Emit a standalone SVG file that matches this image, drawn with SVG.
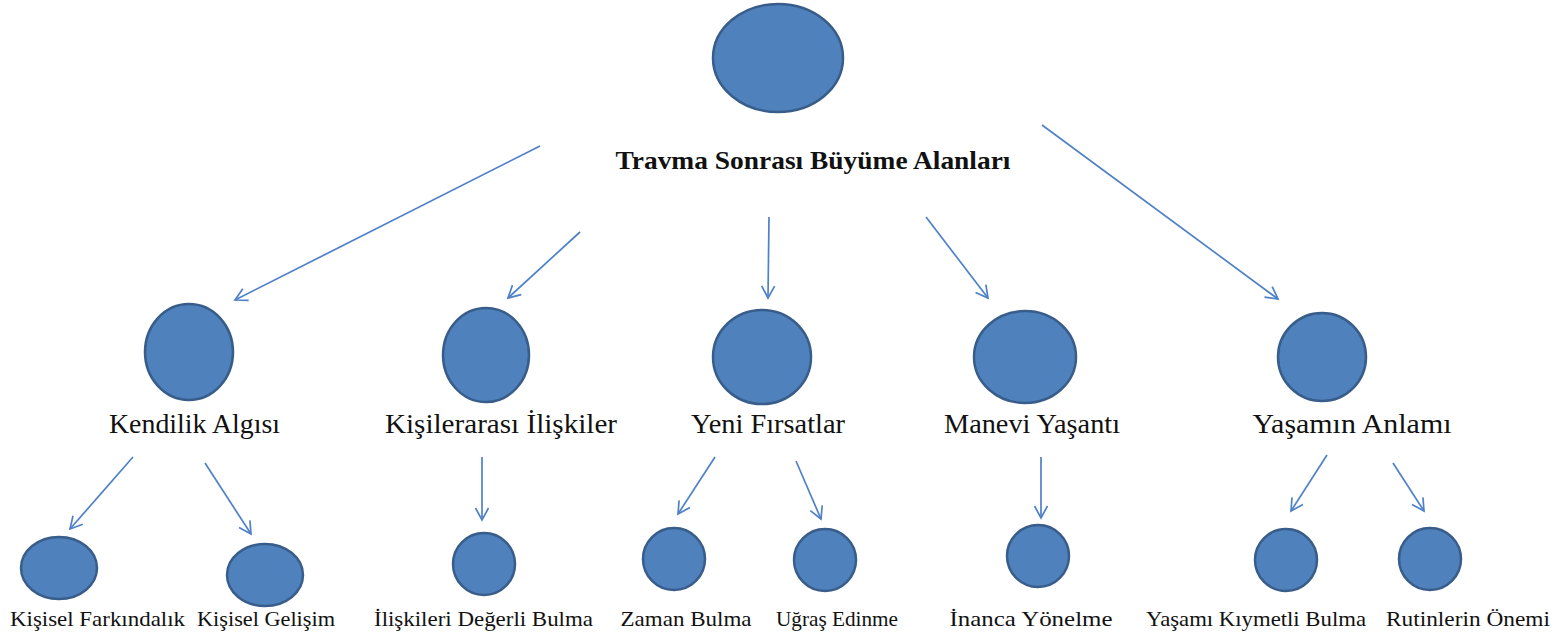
<svg xmlns="http://www.w3.org/2000/svg" width="1560" height="639" viewBox="0 0 1560 639">
  <style>
    .node { fill: #4F81BD; stroke: #385D8A; stroke-width: 2.5; }
    .link { stroke: #4F81C8; stroke-width: 1.7; fill: none; marker-end: url(#arr); }
    .title { font-family: "Liberation Serif", "Times New Roman", serif; font-weight: bold; font-size: 26px; fill: #111; }
    .l2 { font-family: "Liberation Serif", "Times New Roman", serif; font-size: 27px; fill: #111; }
    .l3 { font-family: "Liberation Serif", "Times New Roman", serif; font-size: 22px; fill: #111; }
  </style>
  <defs>
    <marker id="arr" viewBox="0 0 16 16" refX="14" refY="8" markerWidth="16" markerHeight="16" markerUnits="userSpaceOnUse" orient="auto">
      <path d="M2,1.5 L14,8 L2,14.5" fill="none" stroke="#4F81C8" stroke-width="1.7"/>
    </marker>
  </defs>
  <rect width="1560" height="639" fill="#ffffff"/>

  <!-- connectors -->
  <g id="connectors">
    <line class="link" x1="540" y1="146" x2="235" y2="300"/>
    <line class="link" x1="580" y1="232" x2="508" y2="298"/>
    <line class="link" x1="769" y1="217" x2="768" y2="298"/>
    <line class="link" x1="926" y1="217" x2="988" y2="298"/>
    <line class="link" x1="1042" y1="125" x2="1278" y2="299"/>
    <line class="link" x1="133" y1="457" x2="70" y2="529"/>
    <line class="link" x1="205" y1="463" x2="251" y2="534"/>
    <line class="link" x1="482" y1="457" x2="482" y2="520"/>
    <line class="link" x1="715" y1="457" x2="678" y2="514"/>
    <line class="link" x1="796" y1="461" x2="821" y2="519"/>
    <line class="link" x1="1041" y1="457" x2="1041" y2="518"/>
    <line class="link" x1="1327" y1="455" x2="1291" y2="511"/>
    <line class="link" x1="1393" y1="463" x2="1424" y2="511"/>
  </g>

  <!-- root -->
  <g id="root">
    <ellipse class="node" cx="778" cy="58" rx="65" ry="54"/>
    <text class="title" x="813" y="169" text-anchor="middle" textLength="395" lengthAdjust="spacingAndGlyphs">Travma Sonrası Büyüme Alanları</text>
  </g>

  <!-- main domains -->
  <g id="kendilik">
    <ellipse class="node" cx="189" cy="352" rx="44" ry="48"/>
    <text class="l2" x="194.5" y="433" text-anchor="middle" textLength="171" lengthAdjust="spacingAndGlyphs">Kendilik Algısı</text>
  </g>
  <g id="kisilerarasi">
    <ellipse class="node" cx="486" cy="355" rx="43" ry="47"/>
    <text class="l2" x="501" y="433" text-anchor="middle" textLength="232" lengthAdjust="spacingAndGlyphs">Kişilerarası İlişkiler</text>
  </g>
  <g id="yeni-firsatlar">
    <ellipse class="node" cx="762" cy="357" rx="49" ry="47"/>
    <text class="l2" x="768" y="433" text-anchor="middle" textLength="154" lengthAdjust="spacingAndGlyphs">Yeni Fırsatlar</text>
  </g>
  <g id="manevi">
    <ellipse class="node" cx="1025" cy="357" rx="51" ry="46"/>
    <text class="l2" x="1032" y="433" text-anchor="middle" textLength="176" lengthAdjust="spacingAndGlyphs">Manevi Yaşantı</text>
  </g>
  <g id="yasamin-anlami">
    <ellipse class="node" cx="1322" cy="357" rx="44" ry="44"/>
    <text class="l2" x="1352" y="433" text-anchor="middle" textLength="199" lengthAdjust="spacingAndGlyphs">Yaşamın Anlamı</text>
  </g>

  <!-- sub-themes -->
  <g id="kisisel-farkindalik">
    <ellipse class="node" cx="59" cy="568" rx="38" ry="31"/>
    <text class="l3" x="97.5" y="626" text-anchor="middle" textLength="175" lengthAdjust="spacingAndGlyphs">Kişisel Farkındalık</text>
  </g>
  <g id="kisisel-gelisim">
    <ellipse class="node" cx="265" cy="575" rx="38" ry="31"/>
    <text class="l3" x="266" y="626" text-anchor="middle" textLength="138" lengthAdjust="spacingAndGlyphs">Kişisel Gelişim</text>
  </g>
  <g id="iliskileri-degerli-bulma">
    <ellipse class="node" cx="484" cy="564" rx="31" ry="31"/>
    <text class="l3" x="483.5" y="626" text-anchor="middle" textLength="219" lengthAdjust="spacingAndGlyphs">İlişkileri Değerli Bulma</text>
  </g>
  <g id="zaman-bulma">
    <ellipse class="node" cx="674" cy="559" rx="31" ry="31"/>
    <text class="l3" x="686" y="626" text-anchor="middle" textLength="131" lengthAdjust="spacingAndGlyphs">Zaman Bulma</text>
  </g>
  <g id="ugras-edinme">
    <ellipse class="node" cx="825" cy="560" rx="31" ry="31"/>
    <text class="l3" x="837" y="626" text-anchor="middle" textLength="122" lengthAdjust="spacingAndGlyphs">Uğraş Edinme</text>
  </g>
  <g id="inanca-yonelme">
    <ellipse class="node" cx="1038" cy="556" rx="31" ry="31"/>
    <text class="l3" x="1031" y="626" text-anchor="middle" textLength="163" lengthAdjust="spacingAndGlyphs">İnanca Yönelme</text>
  </g>
  <g id="yasami-kiymetli-bulma">
    <ellipse class="node" cx="1286" cy="560" rx="31" ry="31"/>
    <text class="l3" x="1256" y="626" text-anchor="middle" textLength="220" lengthAdjust="spacingAndGlyphs">Yaşamı Kıymetli Bulma</text>
  </g>
  <g id="rutinlerin-onemi">
    <ellipse class="node" cx="1430" cy="559" rx="31" ry="31"/>
    <text class="l3" x="1468" y="626" text-anchor="middle" textLength="164" lengthAdjust="spacingAndGlyphs">Rutinlerin Önemi</text>
  </g>
</svg>
